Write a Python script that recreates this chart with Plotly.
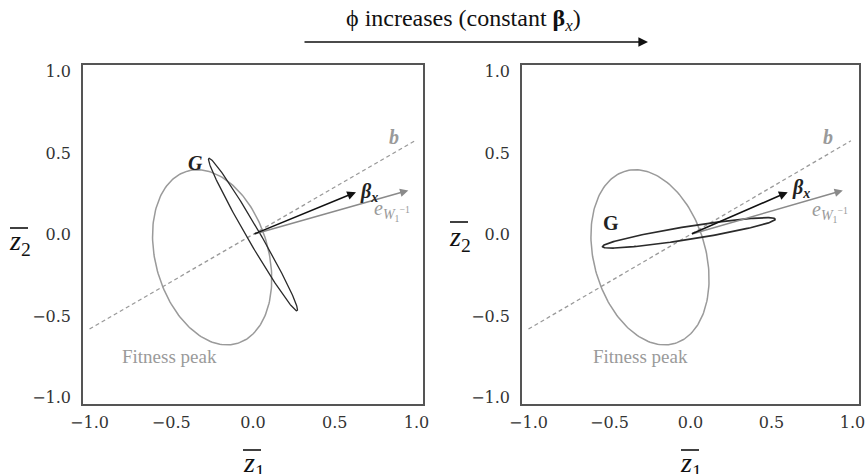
import numpy as np
import plotly.graph_objects as go

W, H = 865, 474

# ---- data ----
tick_vals = [-1.0, -0.5, 0.0, 0.5, 1.0]
tick_text = ["\u22121.0", "\u22120.5", "0.0", "0.5", "1.0"]

# direction b (dashed line): end points
b_x = [-1.0, 0.99]
b_y = [-0.58, 0.575]

# fitness peak ellipse: centre, semi-axes, rotation (deg, of major axis from x-axis)
peak_center = (-0.25, -0.14)
peak_axes = (0.55, 0.345)
peak_angle = 106.0

# G ellipse per panel
G_center = [(0.0, 0.0), (-0.01, 0.01)]
G_axes = [(0.54, 0.04), (0.54, 0.04)]
G_angle = [120.0, 9.0]

# arrows (start -> tip)
beta_tip = [(0.63, 0.26), (0.60, 0.26)]
e_tip = [(0.95, 0.27), (0.94, 0.27)]
origin = [(0.0, 0.0), (0.0, 0.0)]

# label positions
G_label = [(-0.35, 0.44), (-0.49, 0.07)]
b_label = [(0.86, 0.60), (0.85, 0.60)]
beta_label = [(0.71, 0.26), (0.68, 0.28)]
e_label = [(0.85, 0.145), (0.86, 0.14)]
peak_label = [(-0.51, -0.75), (-0.31, -0.75)]

# ---- helpers ----
def ellipse(center, axes, angle_deg, n=200):
    t = np.linspace(0, 2 * np.pi, n)
    a, b = axes
    th = np.deg2rad(angle_deg)
    x = a * np.cos(t)
    y = b * np.sin(t)
    xr = center[0] + x * np.cos(th) - y * np.sin(th)
    yr = center[1] + x * np.sin(th) + y * np.cos(th)
    return xr, yr

fig = go.Figure()

dom_x = [[83 / W, 423 / W], [522 / W, 859 / W]]
dom_y = [1 - 404 / H, 1 - 65 / H]

SERIF = "Liberation Serif"
GREY = "#9a9a9a"

annotations = []
shapes = []

for i in range(2):
    xa = "x" if i == 0 else "x2"
    ya = "y" if i == 0 else "y2"
    # b dashed line
    fig.add_trace(go.Scatter(x=b_x, y=b_y, mode="lines", xaxis=xa, yaxis=ya,
                             line=dict(color=GREY, width=1.3, dash="4px,3px"),
                             hoverinfo="skip", showlegend=False))
    # fitness peak ellipse
    px, py = ellipse(peak_center, peak_axes, peak_angle)
    fig.add_trace(go.Scatter(x=px, y=py, mode="lines", xaxis=xa, yaxis=ya,
                             line=dict(color=GREY, width=1.5),
                             hoverinfo="skip", showlegend=False))
    # G ellipse
    gx, gy = ellipse(G_center[i], G_axes[i], G_angle[i])
    fig.add_trace(go.Scatter(x=gx, y=gy, mode="lines", xaxis=xa, yaxis=ya,
                             line=dict(color="#2a2a2a", width=1.7 if i == 1 else 1.3),
                             hoverinfo="skip", showlegend=False))
    # e arrow (grey)
    annotations.append(dict(x=e_tip[i][0], y=e_tip[i][1], ax=origin[i][0], ay=origin[i][1],
                            xref=xa, yref=ya, axref=xa, ayref=ya, text="",
                            showarrow=True, arrowhead=2, arrowsize=1.1, arrowwidth=1.5,
                            arrowcolor="#8a8a8a"))
    # beta arrow (black)
    annotations.append(dict(x=beta_tip[i][0], y=beta_tip[i][1], ax=origin[i][0], ay=origin[i][1],
                            xref=xa, yref=ya, axref=xa, ayref=ya, text="",
                            showarrow=True, arrowhead=2, arrowsize=1.1, arrowwidth=1.6,
                            arrowcolor="#111111"))
    # labels
    annotations.append(dict(x=G_label[i][0], y=G_label[i][1], xref=xa, yref=ya,
                            text="<b><i>G</i></b>" if i == 0 else "<b>G</b>", showarrow=False,
                            font=dict(family=SERIF, size=20, color="#222")))
    annotations.append(dict(x=b_label[i][0], y=b_label[i][1], xref=xa, yref=ya,
                            text="<b><i>b</i></b>", showarrow=False,
                            font=dict(family=SERIF, size=20, color=GREY)))
    annotations.append(dict(x=beta_label[i][0], y=beta_label[i][1], xref=xa, yref=ya,
                            text="<b><i>\u03b2<sub>x</sub></i></b>", showarrow=False,
                            font=dict(family=SERIF, size=20, color="#222")))
    annotations.append(dict(x=e_label[i][0], y=e_label[i][1], xref=xa, yref=ya,
                            text="<i>e</i><sub><i>W</i><sub>1</sub><sup>\u22121</sup></sub>",
                            showarrow=False,
                            font=dict(family=SERIF, size=20, color=GREY)))
    annotations.append(dict(x=peak_label[i][0], y=peak_label[i][1], xref=xa, yref=ya,
                            text="Fitness peak", showarrow=False,
                            font=dict(family=SERIF, size=19, color=GREY)))

axis_common = dict(range=[-1.04, 1.04], tickvals=tick_vals, ticktext=tick_text,
                   showgrid=False, zeroline=False, showline=True, mirror=True,
                   linecolor="#555", linewidth=1.6, ticks="", automargin=False,
                   ticklabeloverflow="allow",
                   tickfont=dict(family="DejaVu Serif", size=16, color="#333"))

fig.update_layout(
    xaxis=dict(domain=dom_x[0], anchor="y", ticklabelstandoff=3, **axis_common),
    yaxis=dict(domain=dom_y, anchor="x", ticklabelstandoff=7, **axis_common),
    xaxis2=dict(domain=dom_x[1], anchor="y2", ticklabelstandoff=3, **axis_common),
    yaxis2=dict(domain=dom_y, anchor="x2", ticklabelstandoff=7, **axis_common),
)

# z-bar axis titles: left-edge x, vertical middle y (pixels)
z_titles = [(7, 243, "2"), (447, 238, "2"), (241, 464, "1"), (678, 464, "1")]
over_lines = [(10, 28, 228), (450, 468, 222), (243, 261, 450), (681, 699, 450)]
for cx, cy, s in z_titles:
    annotations.append(dict(x=cx / W, y=1 - cy / H, xref="paper", yref="paper",
                            xanchor="left", yanchor="middle",
                            text="<i>z</i><sub>%s</sub>" % s, showarrow=False,
                            font=dict(family=SERIF, size=28, color="#111")))
for x0, x1, yy in over_lines:
    shapes.append(dict(type="line", xref="paper", yref="paper",
                       x0=x0 / W, x1=x1 / W, y0=1 - yy / H, y1=1 - yy / H,
                       line=dict(color="#111", width=1.6)))

# top arrow and title
annotations.append(dict(x=648 / W, y=1 - 42 / H, xref="paper", yref="paper",
                        ax=-345, ay=0, text="", showarrow=True, arrowhead=2,
                        arrowsize=1.2, arrowwidth=1.6, arrowcolor="#111"))
annotations.append(dict(x=463 / W, y=1 - 20 / H, xref="paper", yref="paper",
                        xanchor="center", yanchor="middle",
                        text="\u03d5 increases (constant <b>\u03b2</b><sub><i>x</i></sub>)",
                        showarrow=False, font=dict(family=SERIF, size=24, color="#111")))

fig.update_layout(width=W, height=H, margin=dict(l=0, r=0, t=0, b=0, autoexpand=False),
                  paper_bgcolor="white", plot_bgcolor="white",
                  annotations=annotations, shapes=shapes, showlegend=False)

fig.write_html("out.html", config={"displayModeBar": False},
               post_script="document.body.style.margin='0';document.body.style.overflow='hidden';")
